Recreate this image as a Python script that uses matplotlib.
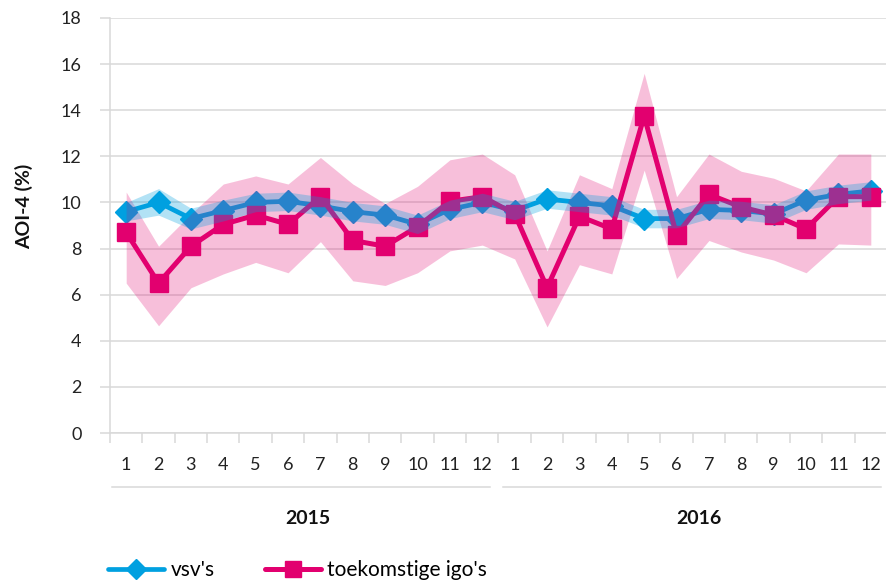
import matplotlib
matplotlib.use('Agg')
import matplotlib.pyplot as plt
from matplotlib.lines import Line2D
import matplotlib.transforms as mtransforms

plt.rcParams['font.family'] = ['Lato', 'DejaVu Sans']

# --- Dados ---
maanden = [str(m) for m in range(1, 13)] * 2
jaren = ['2015', '2016']

vsv = [9.6, 10.0, 9.3, 9.65, 10.0, 10.05, 9.85, 9.6, 9.45, 9.05, 9.7, 10.0,
       9.65, 10.15, 10.0, 9.85, 9.3, 9.3, 9.7, 9.65, 9.5, 10.1, 10.35, 10.5]
vsv_laag = [9.2, 9.45, 8.85, 9.2, 9.6, 9.65, 9.45, 9.2, 9.05, 8.65, 9.3, 9.6,
            9.25, 9.75, 9.6, 9.45, 8.9, 8.9, 9.3, 9.25, 9.1, 9.7, 9.95, 10.1]
vsv_hoog = [10.0, 10.6, 9.75, 10.1, 10.4, 10.45, 10.25, 10.0, 9.85, 9.45, 10.1, 10.4,
            10.05, 10.55, 10.4, 10.25, 9.7, 9.7, 10.1, 10.05, 9.9, 10.5, 10.75, 10.9]

igo = [8.7, 6.5, 8.1, 9.05, 9.45, 9.05, 10.25, 8.35, 8.1, 8.95, 10.05, 10.25,
       9.5, 6.3, 9.4, 8.85, 13.75, 8.6, 10.35, 9.8, 9.45, 8.85, 10.25, 10.25]
igo_laag = [6.5, 4.65, 6.3, 6.9, 7.4, 6.95, 8.3, 6.6, 6.4, 6.95, 7.9, 8.15,
            7.55, 4.6, 7.3, 6.9, 11.4, 6.7, 8.35, 7.85, 7.5, 6.95, 8.2, 8.15]
igo_hoog = [10.45, 8.1, 9.5, 10.8, 11.15, 10.8, 11.95, 10.8, 9.95, 10.7, 11.85, 12.1,
            11.2, 7.9, 11.2, 10.6, 15.6, 10.25, 12.1, 11.35, 11.05, 10.5, 12.1, 12.1]

azul = '#00a0e0'
magenta = '#e2006f'
cinza = '#d9d9d9'

x = list(range(len(maanden)))

fig = plt.figure(figsize=(8.87, 5.83), dpi=100)
ax = fig.add_axes([110 / 887, 150 / 583, 777 / 887, 415 / 583])

# linhas e marcadores
ax.plot(x, vsv, color=azul, lw=3.4, marker='D', ms=11, zorder=3, label="vsv's",
        solid_capstyle='round')
ax.plot(x, igo, color=magenta, lw=3.6, marker='s', ms=13.5, zorder=4,
        label="toekomstige igo's", solid_capstyle='round')

# faixas (transparentes, por cima das linhas)
ax.fill_between(x, igo_laag, igo_hoog, color=magenta, alpha=0.25, lw=0, zorder=5)
ax.fill_between(x, vsv_laag, vsv_hoog, color=azul, alpha=0.3, lw=0, zorder=6)

# eixos
ax.set_xlim(-0.5, 23.5)
ax.set_ylim(0, 18)
ax.set_yticks(range(0, 19, 2))
ax.yaxis.grid(True, color=cinza, lw=1.1, zorder=0)
ax.set_axisbelow(True)
for lado in ['top', 'right']:
    ax.spines[lado].set_visible(False)
for lado in ['left', 'bottom']:
    ax.spines[lado].set_color(cinza)
    ax.spines[lado].set_linewidth(1.1)

ax.tick_params(axis='y', length=7, width=1.1, color=cinza, pad=13.5,
               labelsize=13, labelcolor='#222222')
ax.set_xticks(x)
ax.set_xticklabels(maanden)
ax.set_xticks([i - 0.5 for i in range(25)], minor=True)
ax.tick_params(axis='x', which='major', length=0, pad=17, labelsize=13,
               labelcolor='#222222')
ax.tick_params(axis='x', which='minor', length=7, width=1.1, color=cinza)

ax.set_ylabel('AOI-4 (%)', fontsize=14, fontweight='bold', color='#111111')
ax.yaxis.set_label_coords(-0.099, 0.545)

# agrupamento por ano
trans = mtransforms.blended_transform_factory(ax.transData, ax.transAxes)
grupos = [(-0.45, 11.25), (11.65, 23.3)]
for jaar, (x0, x1) in zip(jaren, grupos):
    ax.add_line(Line2D([x0, x1], [-0.13, -0.13], transform=trans, color=cinza,
                       lw=1.1, clip_on=False))
    ax.text((x0 + x1) / 2 + 0.2, -0.205, jaar, transform=trans, ha='center',
            va='center', fontsize=14, fontweight='bold', color='#111111')

# legenda
fig.legend(loc='center left', bbox_to_anchor=(108 / 887, 13 / 583), ncol=2,
           frameon=False, fontsize=15, handlelength=2.7, handletextpad=0.3,
           columnspacing=2.4, borderpad=0, borderaxespad=0, numpoints=1,
           markerscale=0.9)

fig.savefig('out.png', dpi=100)
